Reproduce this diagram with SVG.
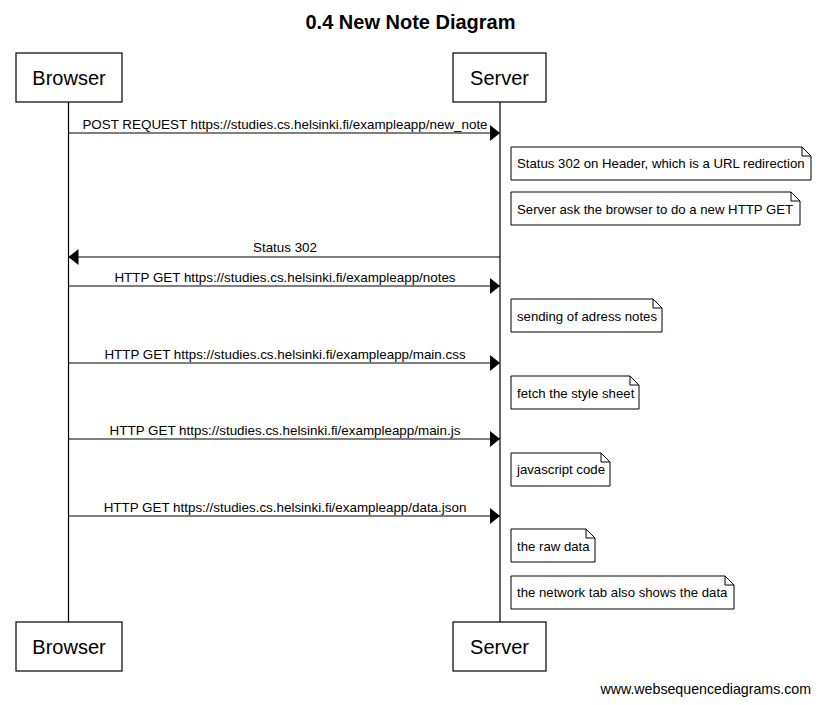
<svg xmlns="http://www.w3.org/2000/svg" width="821" height="705" viewBox="0 0 821 705">
<style>
.box{fill:#fff;stroke:#000;stroke-width:1.2}
.life{stroke:#000;stroke-width:1.2}
.msg{stroke:#000;stroke-width:1.2;fill:none}
.pt{font-family:"Liberation Sans",Arial,sans-serif;font-size:20px;text-anchor:middle}
.mt{font-family:"Liberation Sans",Arial,sans-serif;font-size:13.4px;text-anchor:middle}
.nt{font-family:"Liberation Sans",Arial,sans-serif;font-size:13.2px}
.note{fill:#fff;stroke:#000;stroke-width:1}
</style>
<defs>
<marker id="ah" markerWidth="10" markerHeight="16" refX="10" refY="8" orient="auto" markerUnits="userSpaceOnUse">
<path d="M0,0 L10,8 L0,16 Z" fill="#000"/>
</marker>
</defs>
<rect width="821" height="705" fill="#fff"/>
<text x="410.5" y="29" font-family="Liberation Sans,Arial,sans-serif" font-size="20" font-weight="bold" text-anchor="middle">0.4 New Note Diagram</text>
<g id="lifelines">
<line class="life" x1="68.5" y1="102" x2="68.5" y2="622"/>
<line class="life" x1="500" y1="102" x2="500" y2="622"/>
</g>
<g id="browser-top"><rect class="box" x="16" y="53" width="106" height="49"/><text class="pt" x="69" y="85">Browser</text></g>
<g id="server-top"><rect class="box" x="453" y="53" width="93" height="49"/><text class="pt" x="499.5" y="85">Server</text></g>
<g id="browser-bottom"><rect class="box" x="16" y="622" width="106" height="49"/><text class="pt" x="69" y="654">Browser</text></g>
<g id="server-bottom"><rect class="box" x="453" y="622" width="93" height="49"/><text class="pt" x="499.5" y="654">Server</text></g>
<g id="connectors">
<line class="msg" x1="68.5" y1="133" x2="500" y2="133" marker-end="url(#ah)"/>
<text class="mt" x="285" y="129">POST REQUEST https://studies.cs.helsinki.fi/exampleapp/new_note</text>
<line class="msg" x1="500" y1="257" x2="68.5" y2="257" marker-end="url(#ah)"/>
<text class="mt" x="285" y="252">Status 302</text>
<line class="msg" x1="68.5" y1="286" x2="500" y2="286" marker-end="url(#ah)"/>
<text class="mt" x="285" y="282">HTTP GET https://studies.cs.helsinki.fi/exampleapp/notes</text>
<line class="msg" x1="68.5" y1="363" x2="500" y2="363" marker-end="url(#ah)"/>
<text class="mt" x="285" y="359">HTTP GET https://studies.cs.helsinki.fi/exampleapp/main.css</text>
<line class="msg" x1="68.5" y1="439" x2="500" y2="439" marker-end="url(#ah)"/>
<text class="mt" x="285" y="435">HTTP GET https://studies.cs.helsinki.fi/exampleapp/main.js</text>
<line class="msg" x1="68.5" y1="516" x2="500" y2="516" marker-end="url(#ah)"/>
<text class="mt" x="285" y="512">HTTP GET https://studies.cs.helsinki.fi/exampleapp/data.json</text>
</g>
<g id="note1"><path class="note" d="M511,147 H802 L811,156 V180 H511 Z M802,147 V156 H811"/><text class="nt" x="517" y="168">Status 302 on Header, which is a URL redirection</text></g>
<g id="note2"><path class="note" d="M511,192 H791 L800,201 V225 H511 Z M791,192 V201 H800"/><text class="nt" x="517" y="214">Server ask the browser to do a new HTTP GET</text></g>
<g id="note3"><path class="note" d="M511,299 H653 L662,308 V332 H511 Z M653,299 V308 H662"/><text class="nt" x="517" y="321">sending of adress notes</text></g>
<g id="note4"><path class="note" d="M511,376 H630 L639,385 V409 H511 Z M630,376 V385 H639"/><text class="nt" x="517" y="398">fetch the style sheet</text></g>
<g id="note5"><path class="note" d="M511,453 H601 L610,462 V486 H511 Z M601,453 V462 H610"/><text class="nt" x="517" y="474">javascript code</text></g>
<g id="note6"><path class="note" d="M511,529 H586 L595,538 V562 H511 Z M586,529 V538 H595"/><text class="nt" x="517" y="551">the raw data</text></g>
<g id="note7"><path class="note" d="M511,576 H725 L734,585 V609 H511 Z M725,576 V585 H734"/><text class="nt" x="517" y="597">the network tab also shows the data</text></g>
<text x="811" y="694" font-family="Liberation Sans,Arial,sans-serif" font-size="14.2" text-anchor="end">www.websequencediagrams.com</text>
</svg>
